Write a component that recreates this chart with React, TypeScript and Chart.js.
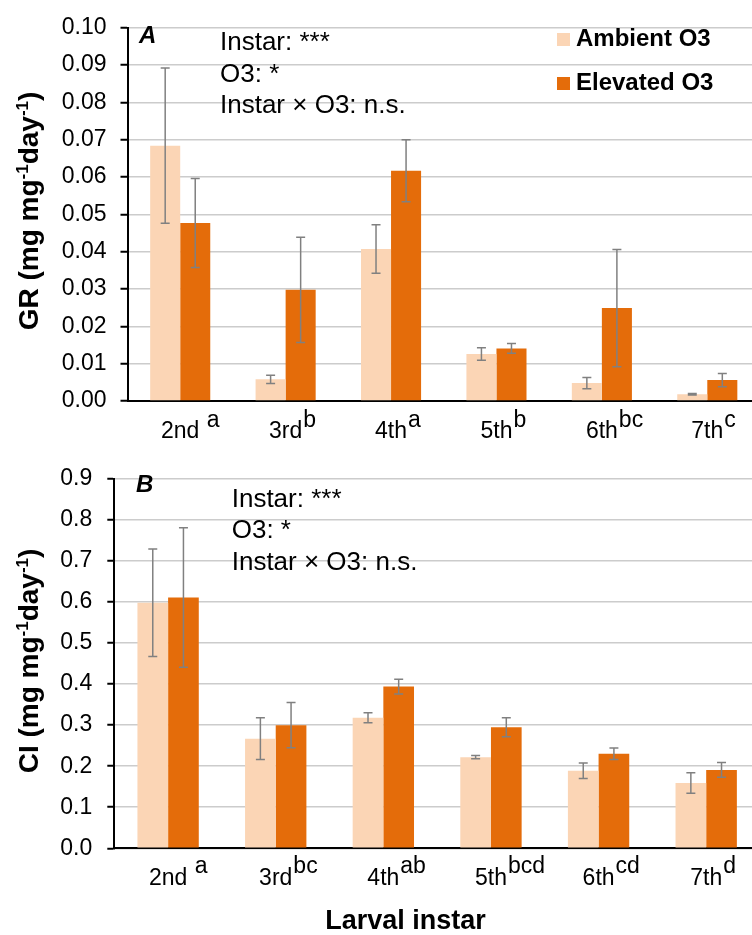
import React, { useEffect, useRef } from "react";
import { Chart, registerables } from "chart.js";

Chart.register(...registerables);

// ---------- data ----------
const instars = ["2nd", "3rd", "4th", "5th", "6th", "7th"];
const grLetters = [" a", "b", "a", "b", "bc", "c"];
const ciLetters = [" a", "bc", "ab", "bcd", "cd", "d"];
const seriesNames = ["Ambient O3", "Elevated O3"];

const grAmbient = [0.0684, 0.0058, 0.0407, 0.0126, 0.0048, 0.0018];
const grAmbientErr = [0.0208, 0.0011, 0.0065, 0.0017, 0.0015, 0.0002];
const grElevated = [0.0477, 0.0298, 0.0617, 0.0141, 0.0249, 0.0056];
const grElevatedErr = [0.0119, 0.0141, 0.0083, 0.0013, 0.0157, 0.0018];

const ciAmbient = [0.598, 0.267, 0.318, 0.222, 0.189, 0.159];
const ciAmbientErr = [0.131, 0.051, 0.012, 0.004, 0.019, 0.025];
const ciElevated = [0.611, 0.3, 0.394, 0.295, 0.23, 0.191];
const ciElevatedErr = [0.17, 0.055, 0.018, 0.023, 0.014, 0.018];

const grAxis = { min: 0, max: 0.1, step: 0.01, digits: 2 };
const ciAxis = { min: 0, max: 0.9, step: 0.1, digits: 1 };

const statsLines = ["Instar: ***", "O3: *", "Instar \u00d7 O3: n.s."];
const grTitle = [
  { t: "GR (mg mg", sup: false },
  { t: "-1", sup: true },
  { t: "day", sup: false },
  { t: "-1", sup: true },
  { t: ")", sup: false },
];
const ciTitle = [
  { t: "CI (mg mg", sup: false },
  { t: "-1", sup: true },
  { t: "day", sup: false },
  { t: "-1", sup: true },
  { t: ")", sup: false },
];
const xTitle = "Larval instar";

// ---------- styles ----------
const FONT = "'Liberation Sans', Arial, Helvetica, sans-serif";
const AMBIENT_COLOR = "#FBD5B5";
const ELEVATED_COLOR = "#E46C0A";
const ERR_COLOR = "#808080";
const GRID_COLOR = "#cccccc";
const CANVAS_W = 760;

type Seg = { t: string; sup: boolean };
type Spec = {
  top: number;
  height: number;
  axisWidth: number;
  padTop: number;
  xAxisHeight: number;
  axis: { min: number; max: number; step: number; digits: number };
  tickPad: number;
  ambient: number[];
  ambientErr: number[];
  elevated: number[];
  elevatedErr: number[];
  letters: string[];
  title: Seg[];
  titleX: number;
  titleCy: number;
  tickBaseline: number;
  supRaise: number;
  panelLabel: string;
  panelLabelX: number;
  panelLabelBaseline: number;
  statsX: number;
  statsBaselines: number[];
  legend: boolean;
  xTitle: boolean;
};

const topSpec: Spec = {
  top: 0,
  height: 450,
  axisWidth: 127.5,
  padTop: 20,
  xAxisHeight: 49,
  axis: grAxis,
  tickPad: 14,
  ambient: grAmbient,
  ambientErr: grAmbientErr,
  elevated: grElevated,
  elevatedErr: grElevatedErr,
  letters: grLetters,
  title: grTitle,
  titleX: 38,
  titleCy: 211,
  tickBaseline: 438,
  supRaise: 11.5,
  panelLabel: "A",
  panelLabelX: 139,
  panelLabelBaseline: 43,
  statsX: 220,
  statsBaselines: [50, 81.7, 113.3],
  legend: true,
  xTitle: false,
};

const bottomSpec: Spec = {
  top: 450,
  height: 485,
  axisWidth: 114.3,
  padTop: 16.7,
  xAxisHeight: 86.7,
  axis: ciAxis,
  tickPad: 15,
  ambient: ciAmbient,
  ambientErr: ciAmbientErr,
  elevated: ciElevated,
  elevatedErr: ciElevatedErr,
  letters: ciLetters,
  title: ciTitle,
  titleX: 38,
  titleCy: 211,
  tickBaseline: 435,
  supRaise: 11.7,
  panelLabel: "B",
  panelLabelX: 136,
  panelLabelBaseline: 42.3,
  statsX: 231.7,
  statsBaselines: [56.7, 88.3, 120],
  legend: false,
  xTitle: true,
};

function Panel({ spec }: { spec: Spec }) {
  const ref = useRef<HTMLCanvasElement>(null);

  useEffect(() => {
    const canvas = ref.current;
    if (!canvas) return;
    const errs = [spec.ambientErr, spec.elevatedErr];

    const overlay = {
      id: "overlay",
      afterDatasetsDraw(chart: any) {
        const ctx = chart.ctx;
        const y = chart.scales.y;
        ctx.save();
        ctx.strokeStyle = ERR_COLOR;
        ctx.lineWidth = 1.5;
        for (let d = 0; d < chart.data.datasets.length; d++) {
          const meta = chart.getDatasetMeta(d);
          const vals = chart.data.datasets[d].data as number[];
          meta.data.forEach((bar: any, i: number) => {
            const v = vals[i];
            const e = errs[d][i];
            const x = bar.x;
            const y1 = y.getPixelForValue(v + e);
            const y2 = y.getPixelForValue(v - e);
            ctx.beginPath();
            ctx.moveTo(x, y1);
            ctx.lineTo(x, y2);
            ctx.moveTo(x - 4.5, y1);
            ctx.lineTo(x + 4.5, y1);
            ctx.moveTo(x - 4.5, y2);
            ctx.lineTo(x + 4.5, y2);
            ctx.stroke();
          });
        }
        ctx.restore();
      },
      afterDraw(chart: any) {
        const ctx = chart.ctx;
        const xs = chart.scales.x;
        ctx.save();
        ctx.fillStyle = "#000";
        ctx.textBaseline = "alphabetic";

        // x tick labels with superscript letters
        ctx.font = `23px ${FONT}`;
        instars.forEach((lab, i) => {
          const cx = xs.getPixelForValue(i);
          const w = ctx.measureText(lab).width;
          ctx.textAlign = "center";
          ctx.fillText(lab, cx, spec.tickBaseline);
          ctx.textAlign = "left";
          ctx.fillText(spec.letters[i], cx + w / 2 + 1, spec.tickBaseline - spec.supRaise);
        });

        // y title (rotated) with superscripts
        const big = `bold 28px ${FONT}`;
        const small = `bold 17px ${FONT}`;
        let total = 0;
        spec.title.forEach((s) => {
          ctx.font = s.sup ? small : big;
          total += ctx.measureText(s.t).width;
        });
        ctx.save();
        ctx.translate(spec.titleX, spec.titleCy);
        ctx.rotate(-Math.PI / 2);
        ctx.textAlign = "left";
        let px = -total / 2;
        spec.title.forEach((s) => {
          ctx.font = s.sup ? small : big;
          ctx.fillText(s.t, px, s.sup ? -10 : 0);
          px += ctx.measureText(s.t).width;
        });
        ctx.restore();

        // panel letter
        ctx.textAlign = "left";
        ctx.font = `italic bold 24px ${FONT}`;
        ctx.fillText(spec.panelLabel, spec.panelLabelX, spec.panelLabelBaseline);

        // statistics text
        ctx.font = `26px ${FONT}`;
        statsLines.forEach((line, i) => {
          ctx.fillText(line, spec.statsX, spec.statsBaselines[i]);
        });

        // legend
        if (spec.legend) {
          const ys = [46, 90];
          ctx.font = `bold 24px ${FONT}`;
          chart.data.datasets.forEach((ds: any, i: number) => {
            ctx.fillStyle = ds.backgroundColor;
            ctx.fillRect(557, ys[i] - 13, 13, 13);
            ctx.fillStyle = "#000";
            ctx.fillText(ds.label, 576, ys[i]);
          });
        }

        // x title
        if (spec.xTitle) {
          ctx.font = `bold 27px ${FONT}`;
          ctx.textAlign = "center";
          ctx.fillText(xTitle, 405.5, 479.3);
        }
        ctx.restore();
      },
    };

    const chart = new Chart(canvas, {
      type: "bar",
      data: {
        labels: instars,
        datasets: [
          {
            label: seriesNames[0],
            data: spec.ambient,
            backgroundColor: AMBIENT_COLOR,
            borderWidth: 0,
            categoryPercentage: 0.57,
            barPercentage: 1,
          },
          {
            label: seriesNames[1],
            data: spec.elevated,
            backgroundColor: ELEVATED_COLOR,
            borderWidth: 0,
            categoryPercentage: 0.57,
            barPercentage: 1,
          },
        ],
      },
      options: {
        animation: false,
        responsive: false,
        maintainAspectRatio: false,
        devicePixelRatio: 1,
        layout: { padding: { top: spec.padTop, left: 0, right: 0, bottom: 0 } },
        plugins: { legend: { display: false }, tooltip: { enabled: false } },
        scales: {
          x: {
            grid: { display: false },
            border: { color: "#000", width: 2 },
            ticks: { display: false },
            afterFit: (s: any) => {
              s.height = spec.xAxisHeight;
            },
          },
          y: {
            min: spec.axis.min,
            max: spec.axis.max,
            ticks: {
              stepSize: spec.axis.step,
              color: "#000",
              padding: spec.tickPad,
              font: { family: FONT, size: 23 },
              callback: (v: any) => Number(v).toFixed(spec.axis.digits),
            },
            grid: {
              color: GRID_COLOR,
              lineWidth: 1.5,
              tickColor: "#000",
              tickLength: 7,
              tickWidth: 2,
            },
            border: { color: "#000", width: 2 },
            afterFit: (s: any) => {
              s.width = spec.axisWidth;
            },
          },
        },
      } as any,
      plugins: [overlay],
    });
    return () => chart.destroy();
  }, [spec]);

  return (
    <canvas
      ref={ref}
      width={CANVAS_W}
      height={spec.height}
      style={{ position: "absolute", left: 0, top: spec.top, width: CANVAS_W, height: spec.height }}
    />
  );
}

export default function App() {
  return (
    <div
      style={{
        position: "absolute",
        left: 0,
        top: 0,
        width: 752,
        height: 935,
        overflow: "hidden",
        background: "#fff",
      }}
    >
      <Panel spec={topSpec} />
      <Panel spec={bottomSpec} />
    </div>
  );
}
